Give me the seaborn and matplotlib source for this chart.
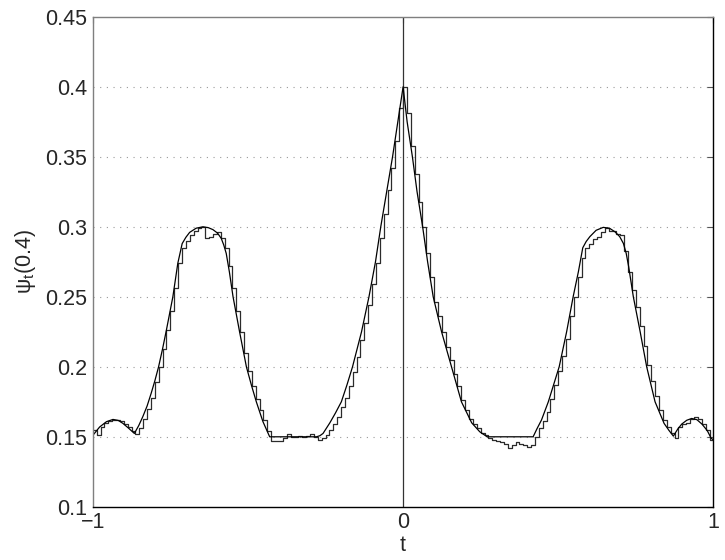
import numpy as np
import pandas as pd
import seaborn as sns
import matplotlib
matplotlib.use("Agg")
import matplotlib.pyplot as plt

# smooth curve psi_t(0.4)
t_smooth = [-1.0, -0.978, -0.956, -0.935, -0.918, -0.903, -0.885, -0.866, -0.852, -0.839,
            -0.825, -0.812, -0.8, -0.788, -0.775, -0.763, -0.742, -0.726, -0.712, -0.700,
            -0.688, -0.667, -0.645, -0.628, -0.613, -0.598, -0.586, -0.578, -0.570, -0.560,
            -0.548, -0.527, -0.505, -0.489, -0.473, -0.452, -0.430, -0.279, -0.268, -0.258,
            -0.236, -0.218, -0.199, -0.181, -0.163, -0.134, -0.110, -0.089, -0.072, -0.053,
            -0.034, -0.017, 0.0, 0.013, 0.030, 0.045, 0.063, 0.079, 0.097, 0.124,
            0.156, 0.188, 0.221, 0.247, 0.271, 0.419, 0.432, 0.446, 0.468, 0.503,
            0.527, 0.548, 0.565, 0.579, 0.590, 0.602, 0.622, 0.645, 0.665, 0.683,
            0.698, 0.710, 0.719, 0.727, 0.742, 0.764, 0.785, 0.812, 0.841, 0.857,
            0.871, 0.885, 0.898, 0.914, 0.930, 0.947, 0.963, 0.980, 0.993, 1.0]
psi_smooth = [0.151, 0.157, 0.1608, 0.1624, 0.1617, 0.1596, 0.1562, 0.1524, 0.158, 0.1643,
              0.172, 0.181, 0.190, 0.200, 0.213, 0.226, 0.250, 0.274, 0.288, 0.2925,
              0.296, 0.2990, 0.300, 0.2994, 0.298, 0.2955, 0.2917, 0.287, 0.281, 0.268,
              0.250, 0.225, 0.200, 0.187, 0.175, 0.161, 0.150, 0.150, 0.1508, 0.1524,
              0.160, 0.167, 0.175, 0.187, 0.200, 0.225, 0.250, 0.275, 0.300, 0.325,
              0.350, 0.375, 0.400, 0.375, 0.350, 0.325, 0.300, 0.275, 0.250, 0.225,
              0.200, 0.175, 0.160, 0.1536, 0.150, 0.150, 0.156, 0.162, 0.175, 0.200,
              0.225, 0.250, 0.268, 0.285, 0.2895, 0.293, 0.2975, 0.2996, 0.2990, 0.2964,
              0.2930, 0.2881, 0.281, 0.2714, 0.250, 0.225, 0.200, 0.175, 0.1596, 0.1545,
              0.1505, 0.1555, 0.1591, 0.1618, 0.1631, 0.1622, 0.1591, 0.1545, 0.1489, 0.1478]

# empirical (staircase) estimate, one value per bin of width 0.0125 starting at t=-1
bin_start = -1.0
bin_width = 0.0125
psi_steps = [0.155, 0.151, 0.157, 0.160, 0.161, 0.162, 0.162, 0.161, 0.159, 0.157,
             0.154, 0.152, 0.156, 0.163, 0.170, 0.178, 0.189, 0.200, 0.213, 0.226,
             0.240, 0.256, 0.274, 0.285, 0.290, 0.294, 0.297, 0.299, 0.300, 0.292,
             0.293, 0.295, 0.296, 0.292, 0.285, 0.272, 0.256, 0.240, 0.225, 0.210,
             0.197, 0.186, 0.177, 0.169, 0.162, 0.154, 0.147, 0.147, 0.147, 0.149,
             0.152, 0.150, 0.150, 0.1505, 0.150, 0.1505, 0.152, 0.150, 0.148, 0.149,
             0.151, 0.155, 0.159, 0.164, 0.171, 0.178, 0.186, 0.196, 0.207, 0.219,
             0.231, 0.244, 0.259, 0.274, 0.292, 0.309, 0.326, 0.342, 0.361, 0.385,
             0.400, 0.381, 0.358, 0.338, 0.318, 0.300, 0.281, 0.264, 0.246, 0.236,
             0.225, 0.214, 0.205, 0.195, 0.186, 0.176, 0.169, 0.163, 0.159, 0.156,
             0.153, 0.151, 0.149, 0.148, 0.147, 0.146, 0.145, 0.142, 0.144, 0.146,
             0.145, 0.144, 0.143, 0.144, 0.150, 0.156, 0.161, 0.168, 0.177, 0.187,
             0.197, 0.208, 0.220, 0.236, 0.250, 0.264, 0.278, 0.285, 0.288, 0.291,
             0.293, 0.296, 0.299, 0.297, 0.297, 0.295, 0.294, 0.283, 0.268, 0.255,
             0.243, 0.229, 0.215, 0.201, 0.190, 0.179, 0.169, 0.162, 0.157, 0.153,
             0.149, 0.157, 0.159, 0.160, 0.163, 0.164, 0.163, 0.159, 0.155, 0.148]

y_ticks = [0.1, 0.15, 0.2, 0.25, 0.3, 0.35, 0.4, 0.45]
y_tick_labels = ["0.1", "0.15", "0.2", "0.25", "0.3", "0.35", "0.4", "0.45"]
x_ticks = [-1, 0, 1]

sns.set_style("white")
plt.rcParams['font.family'] = ['Liberation Sans', 'DejaVu Sans']
plt.rcParams['mathtext.default'] = 'regular'
fs = 15.5

# staircase as steps-post, last value repeated at the right end
edges = bin_start + bin_width * np.arange(len(psi_steps) + 1)
steps_df = pd.DataFrame({"t": edges, "psi": psi_steps + [psi_steps[-1]]})
smooth_df = pd.DataFrame({"t": t_smooth, "psi": psi_smooth})

fig, ax = plt.subplots(figsize=(7.25, 5.6), dpi=100)
fig.subplots_adjust(left=0.128, right=0.984, bottom=0.095, top=0.970)

# dotted horizontal grid
for yv in y_ticks[1:-1]:
    ax.axhline(yv, color='#9a9a9a', lw=0.8, ls=(0, (1, 5)), zorder=0)
ax.axvline(0, color='#333333', lw=0.9, zorder=1)

sns.lineplot(data=steps_df, x="t", y="psi", ax=ax, color='#2b2b2b', lw=0.9,
             drawstyle='steps-post', estimator=None, sort=False)
sns.lineplot(data=smooth_df, x="t", y="psi", ax=ax, color='black', lw=0.9,
             estimator=None, sort=False)

ax.set_xlim(-1, 1)
ax.set_ylim(0.1, 0.45)
ax.set_xticks(x_ticks)
ax.set_xticklabels(["\u22121", "0", "1"])
ax.set_yticks(y_ticks)
ax.set_yticklabels(y_tick_labels)
ax.tick_params(direction='in', length=4, width=0.8, color='#555555', labelsize=fs,
               right=True, top=True, pad=4)

ax.set_xlabel("t", fontsize=fs, labelpad=1)
ax.set_ylabel(r"$\psi_t$(0.4)", fontsize=fs, labelpad=5)

for side in ['top', 'left']:
    ax.spines[side].set_color('#7f7f7f')
for side in ['bottom', 'right']:
    ax.spines[side].set_color('black')
for s in ax.spines.values():
    s.set_linewidth(1.0)

plt.savefig('out.png', dpi=100)
